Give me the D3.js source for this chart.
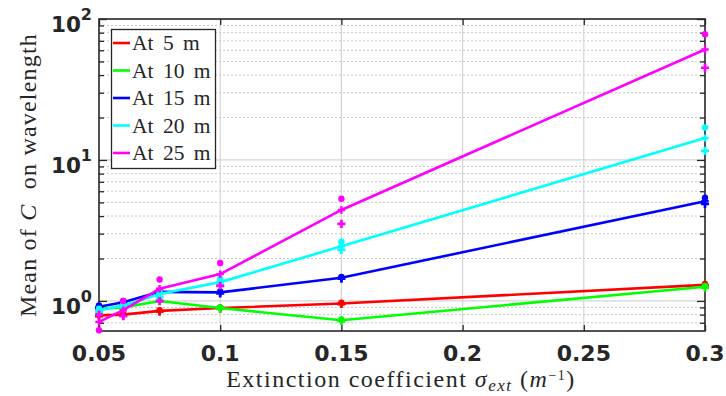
<!DOCTYPE html>
<html><head><meta charset="utf-8">
<script src="https://cdn.jsdelivr.net/npm/d3@7"></script>
<style>body{margin:0;background:#fff}svg{display:block}</style>
</head><body>
<svg id="c" width="726" height="396"></svg>
<script>
const xVals = [0.05, 0.06, 0.075, 0.1, 0.15, 0.3];
const seriesNames = ["At 5 m", "At 10 m", "At 15 m", "At 20 m", "At 25 m"];
const seriesColors = ["#ff0000", "#00ff00", "#0000ff", "#00ffff", "#ff00ff"];
const mean5  = [0.79, 0.80, 0.85, 0.89, 0.96, 1.30];
const mean10 = [0.88, 0.90, 1.00, 0.89, 0.73, 1.26];
const mean15 = [0.91, 0.98, 1.16, 1.15, 1.46, 5.10];
const mean20 = [0.86, 0.93, 1.12, 1.36, 2.44, 14.3];
const mean25 = [0.71, 0.86, 1.22, 1.55, 4.42, 60.8];
const hi5  = [0.80, 0.81, 0.86, 0.90, 0.97, 1.32];
const lo5  = [0.78, 0.79, 0.84, 0.88, 0.95, 1.28];
const hi10 = [0.89, 0.91, 1.01, 0.90, 0.74, 1.28];
const lo10 = [0.87, 0.89, 0.99, 0.88, 0.72, 1.24];
const hi15 = [0.93, 1.00, 1.18, 1.17, 1.48, 5.40];
const lo15 = [0.89, 0.96, 1.14, 1.13, 1.44, 4.87];
const hi20 = [0.88, 0.95, 1.17, 1.43, 2.63, 17.0];
const lo20 = [0.84, 0.91, 1.07, 1.30, 2.30, 11.6];
const hi25 = [0.62, 1.00, 1.42, 1.86, 5.31, 78.0];
const lo25 = [0.80, 0.78, 1.00, 1.28, 3.52, 45.1];
const xTicks = [0.05, 0.1, 0.15, 0.2, 0.25, 0.3];
const xTickLabels = ["0.05", "0.1", "0.15", "0.2", "0.25", "0.3"];
const yTicks = [1, 10, 100];
const yTickExp = ["0", "1", "2"];

const means = [mean5, mean10, mean15, mean20, mean25];
const his = [hi5, hi10, hi15, hi20, hi25];
const los = [lo5, lo10, lo15, lo20, lo25];

const L = 99, R = 705, T = 19, B = 331;
const svg = d3.select("#c");
const x = d3.scaleLinear().domain([0.05, 0.3]).range([L, R]);
const y = d3.scaleLog().domain([0.612, 100]).range([B, T]);

// grid
const minorY = [];
[0.1, 1, 10].forEach(d => { for (let k = 2; k <= 9; k++) { const v = d * k; if (v >= 0.612 && v <= 100) minorY.push(v); } });
const g = svg.append("g");
g.selectAll(".my").data(minorY).enter().append("line")
  .attr("x1", L).attr("x2", R).attr("y1", d => y(d)).attr("y2", d => y(d))
  .attr("stroke", "#c8c8c8").attr("stroke-width", 1).attr("stroke-dasharray", "2,2");
g.selectAll(".My").data(yTicks.filter(d => d < 100)).enter().append("line")
  .attr("x1", L).attr("x2", R).attr("y1", d => y(d)).attr("y2", d => y(d))
  .attr("stroke", "#d4d4d4").attr("stroke-width", 1.2);
g.selectAll(".Mx").data(xTicks.slice(1, -1)).enter().append("line")
  .attr("y1", T).attr("y2", B).attr("x1", d => x(d)).attr("x2", d => x(d))
  .attr("stroke", "#d4d4d4").attr("stroke-width", 1.2);

// axes with inward ticks
const axCol = "#262626";
const yAxL = d3.axisRight(y).tickValues(yTicks).tickSize(8).tickFormat("");
const yAxR = d3.axisLeft(y).tickValues(yTicks).tickSize(8).tickFormat("");
const yMinL = d3.axisRight(y).tickValues(minorY).tickSize(5).tickFormat("");
const yMinR = d3.axisLeft(y).tickValues(minorY).tickSize(5).tickFormat("");
const xAxB = d3.axisTop(x).tickValues(xTicks).tickSize(6).tickFormat("");
const xAxT = d3.axisBottom(x).tickValues(xTicks).tickSize(6).tickFormat("");
[[yAxL, `translate(${L},0)`], [yMinL, `translate(${L},0)`], [yAxR, `translate(${R},0)`], [yMinR, `translate(${R},0)`],
 [xAxB, `translate(0,${B})`], [xAxT, `translate(0,${T})`]].forEach(([ax, tr]) => {
  const a = svg.append("g").attr("transform", tr).call(ax);
  a.select(".domain").remove();
  a.selectAll("line").attr("stroke", axCol).attr("stroke-width", 1.3);
});
svg.append("rect").attr("x", L).attr("y", T).attr("width", R - L).attr("height", B - T)
  .attr("fill", "none").attr("stroke", axCol).attr("stroke-width", 1.6);

// tick labels
const tf = "'DejaVu Sans', sans-serif";
svg.selectAll(".xl").data(xTicks).enter().append("text")
  .attr("x", (d, i) => x(d)).attr("y", 361).attr("text-anchor", "middle")
  .attr("font-family", tf).attr("font-weight", "bold").attr("font-size", 22).attr("fill", "#262626")
  .text((d, i) => xTickLabels[i]);
yTicks.forEach((d, i) => {
  const t = svg.append("text").attr("x", 92).attr("y", y(d) + 13).attr("text-anchor", "end")
    .attr("font-family", tf).attr("font-weight", "bold").attr("font-size", 21.5).attr("fill", "#262626");
  t.append("tspan").text("10");
  t.append("tspan").attr("dy", -12).attr("font-size", 16).text(yTickExp[i]);
});

// axis labels
const sf = "'Liberation Serif', 'DejaVu Serif', serif";
const yl = svg.append("text").attr("transform", "translate(36,175) rotate(-90)").attr("text-anchor", "middle")
  .attr("font-family", sf).attr("font-size", 24).attr("letter-spacing", 1.2).attr("fill", "#262626");
yl.append("tspan").text("Mean of ");
yl.append("tspan").attr("font-style", "italic").text("C");
yl.append("tspan").text("\u00a0\u00a0on wavelength");
const xl = svg.append("text").attr("x", 401).attr("y", 387).attr("text-anchor", "middle")
  .attr("font-family", sf).attr("font-size", 24).attr("letter-spacing", 1.5).attr("fill", "#262626");
xl.append("tspan").text("Extinction coefficient ");
xl.append("tspan").attr("font-style", "italic").text("σ");
xl.append("tspan").attr("font-style", "italic").attr("font-size", 17).attr("dy", 4).text("ext");
xl.append("tspan").attr("dy", -4).text(" (");
xl.append("tspan").attr("font-style", "italic").text("m");
xl.append("tspan").attr("font-size", 14).attr("dy", -7).text("−1");
xl.append("tspan").attr("dy", 7).text(")");

// series
const line = d3.line().x((d, i) => x(xVals[i])).y(d => y(d));
means.forEach((m, s) => {
  const col = seriesColors[s];
  const gs = svg.append("g");
  gs.append("path").datum(m).attr("d", line).attr("fill", "none").attr("stroke", col).attr("stroke-width", 2.6);
  gs.selectAll(".mm").data(m).enter().append("path")
    .attr("transform", (d, i) => `translate(${x(xVals[i])},${y(d)})`)
    .attr("d", d3.symbol(d3.symbolCross, 30)).attr("fill", col);
  gs.selectAll(".hd").data(his[s]).enter().append("circle")
    .attr("cx", (d, i) => x(xVals[i])).attr("cy", d => y(d)).attr("r", 3.2).attr("fill", col);
  gs.selectAll(".lp").data(los[s]).enter().append("path")
    .attr("transform", (d, i) => `translate(${x(xVals[i])},${y(d)})`)
    .attr("d", d3.symbol(d3.symbolCross, 36)).attr("fill", col);
});

// legend
const lg = svg.append("g");
lg.append("rect").attr("x", 111.5).attr("y", 29.5).attr("width", 104).attr("height", 139)
  .attr("fill", "#fff").attr("stroke", axCol).attr("stroke-width", 1.3);
seriesNames.forEach((n, i) => {
  const yy = 43 + i * 27.5;
  lg.append("line").attr("x1", 113).attr("x2", 130).attr("y1", yy).attr("y2", yy)
    .attr("stroke", seriesColors[i]).attr("stroke-width", 2.6);
  lg.append("text").attr("x", 132).attr("y", yy + 7).attr("font-family", sf).attr("font-size", 21.5)
    .attr("word-spacing", 4).attr("fill", "#262626").text(n);
});
</script>
</body></html>
